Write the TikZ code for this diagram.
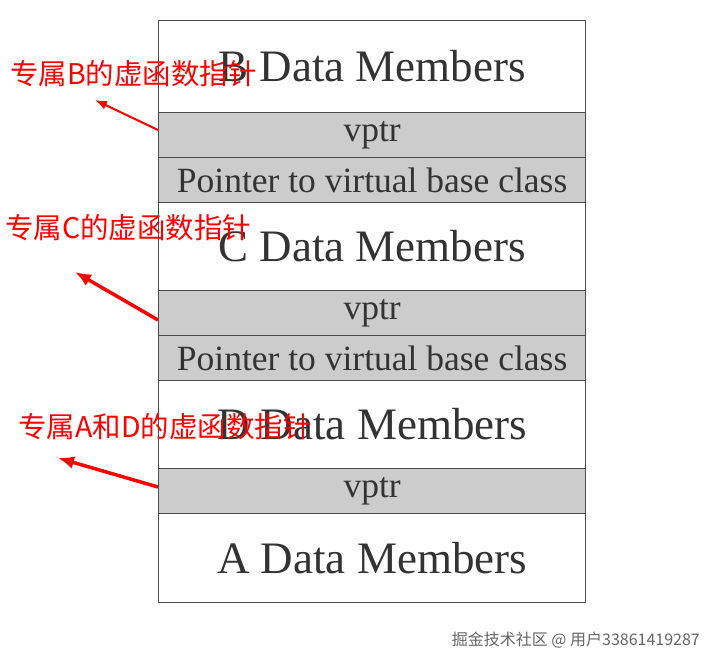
\documentclass[tikz,border=0pt]{standalone}
\usepackage{fontspec}
\setmainfont{Liberation Serif}
\newfontfamily\cjk{Noto Sans CJK SC}
\usetikzlibrary{arrows.meta}
\begin{document}
\begin{tikzpicture}[x=1pt,y=-1pt,
  row/.style={draw=black!70,line width=1.2pt,minimum width=427pt,anchor=north west,inner sep=0pt,text=black!80},
  big/.style={row,font=\fontsize{45}{45}\selectfont},
  small/.style={row,fill=black!20,font=\fontsize{35.5}{35.5}\selectfont},
  lab/.style={text=red,font=\cjk\fontsize{28.5}{28.5}\selectfont,anchor=west,inner sep=0pt},
  arr/.style={red,line width=3.5pt,-{Latex[length=16pt,width=13pt]}}]
\useasboundingbox[fill=white] (0,0) rectangle (716,668);
\node[big,minimum height=92pt] (b) at (158,20) {B Data Members};
\node[small,minimum height=45pt] (v1) at (158,112) {vptr};
\node[small,minimum height=45pt] (p1) at (158,157) {Pointer to virtual base class};
\node[big,minimum height=88pt] (c) at (158,202) {C Data Members};
\node[small,minimum height=45pt] (v2) at (158,290) {vptr};
\node[small,minimum height=45pt] (p2) at (158,335) {Pointer to virtual base class};
\node[big,minimum height=88pt] (d) at (158,380) {D Data Members};
\node[small,minimum height=45pt] (v3) at (158,468) {vptr};
\node[big,minimum height=89pt] (a) at (158,513) {A Data Members};
\node[lab] (lb) at (10,74) {专属B的虚函数指针};
\node[lab] (lc) at (5,228) {专属C的虚函数指针};
\node[lab] (ld) at (18,427) {专属A和D的虚函数指针};
\coordinate (tb) at (95,100);
\coordinate (tc) at (75,272);
\coordinate (td) at (58,458);
\draw[arr,line width=2pt,-{Latex[length=12pt,width=9pt]}] (v1.west|-0,130) -- (tb);
\draw[arr] (v2.west|-0,320) -- (tc);
\draw[arr] (v3.west|-0,487) -- (td);
\node[anchor=east,text=black!60,font=\cjk\fontsize{16}{16}\selectfont,inner sep=0pt] (wm) at (700,640) {掘金技术社区 @ 用户33861419287};
\end{tikzpicture}
\end{document}
